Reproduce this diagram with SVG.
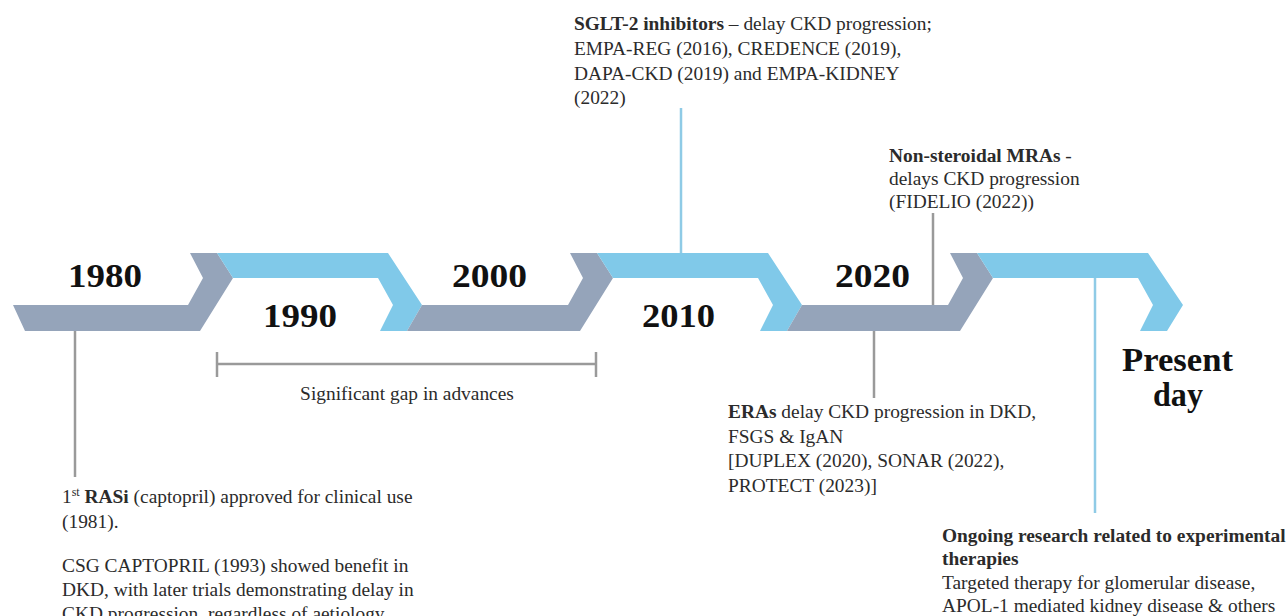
<svg xmlns="http://www.w3.org/2000/svg" width="1288" height="616" viewBox="0 0 1288 616">
<style>
.gray{fill:#95a4ba}
.blue{fill:#80c9e9}
.yr{font-family:"Liberation Serif",serif;font-weight:bold;font-size:33px;fill:#111}
.txt{font-family:"Liberation Serif",serif;font-size:19.4px;fill:#2b2b2b}
.b{font-weight:bold}
.lg{stroke:#9a9a9a;stroke-width:2.5;fill:none}
.lb{stroke:#8fcbe6;stroke-width:2.5;fill:none}
</style>
<rect width="1288" height="616" fill="#ffffff"/>
<g id="band">
<g id="seg-1980"><polygon class="gray" points="13,305 188,305 203,278 190,253 217,253 233,278 200,331 25,331"/><text class="yr" x="68" y="287" textLength="74" lengthAdjust="spacingAndGlyphs">1980</text></g>
<g id="seg-1990"><polygon class="blue" points="217,253 388,253 422,305 407,331 380,331 393,305 378,278 233,278"/><text class="yr" x="263" y="327" textLength="74" lengthAdjust="spacingAndGlyphs">1990</text></g>
<g id="seg-2000"><polygon class="gray" points="422,305 568,305 583,278 570,253 597,253 613,278 580,331 407,331"/><text class="yr" x="452" y="287" textLength="75" lengthAdjust="spacingAndGlyphs">2000</text></g>
<g id="seg-2010"><polygon class="blue" points="597,253 768,253 802,305 787,331 760,331 773,305 758,278 613,278"/><text class="yr" x="642" y="327" textLength="73" lengthAdjust="spacingAndGlyphs">2010</text></g>
<g id="seg-2020"><polygon class="gray" points="802,305 948,305 963,278 950,253 977,253 993,278 960,331 787,331"/><text class="yr" x="835" y="287" textLength="75" lengthAdjust="spacingAndGlyphs">2020</text></g>
<g id="seg-present"><polygon class="blue" points="977,253 1148,253 1183,305 1167,331 1140,331 1153,305 1138,278 993,278"/></g>
</g>
<g id="connectors">
<line class="lg" x1="75" y1="331" x2="75" y2="477"/>
<line class="lb" x1="681" y1="108" x2="681" y2="253"/>
<line class="lg" x1="933" y1="213" x2="933" y2="305"/>
<line class="lg" x1="874" y1="331" x2="874" y2="398"/>
<line class="lb" x1="1095" y1="278" x2="1095" y2="513"/>
<g id="gap-bracket">
<line class="lg" x1="217" y1="364" x2="596" y2="364"/>
<line class="lg" x1="217" y1="352" x2="217" y2="377"/>
<line class="lg" x1="596" y1="352" x2="596" y2="377"/>
</g>
</g>
<g id="present-day">
<text class="yr" x="1122" y="371" font-size="35" textLength="111" lengthAdjust="spacingAndGlyphs">Present</text>
<text class="yr" x="1153" y="406" font-size="35" textLength="50" lengthAdjust="spacingAndGlyphs">day</text>
</g>
<g id="note-gap"><text class="txt" x="407" y="400" text-anchor="middle">Significant gap in advances</text></g>
<g id="note-sglt2">
<text class="txt" x="574" y="30"><tspan class="b">SGLT-2 inhibitors</tspan> – delay CKD progression;</text>
<text class="txt" x="574" y="55">EMPA-REG (2016), CREDENCE (2019),</text>
<text class="txt" x="574" y="79.5">DAPA-CKD (2019) and EMPA-KIDNEY</text>
<text class="txt" x="574" y="104">(2022)</text>
</g>
<g id="note-mra">
<text class="txt" x="889" y="162"><tspan class="b">Non-steroidal MRAs</tspan> -</text>
<text class="txt" x="889" y="185">delays CKD progression</text>
<text class="txt" x="889" y="208">(FIDELIO (2022))</text>
</g>
<g id="note-rasi">
<text class="txt" x="62" y="503">1<tspan font-size="12" dy="-7">st</tspan><tspan dy="7"> </tspan><tspan class="b">RASi</tspan> (captopril) approved for clinical use</text>
<text class="txt" x="62" y="528">(1981).</text>
<text class="txt" x="62" y="572">CSG CAPTOPRIL (1993) showed benefit in</text>
<text class="txt" x="62" y="596">DKD, with later trials demonstrating delay in</text>
<text class="txt" x="62" y="620">CKD progression, regardless of aetiology</text>
</g>
<g id="note-era">
<text class="txt" x="728" y="418"><tspan class="b">ERAs</tspan> delay CKD progression in DKD,</text>
<text class="txt" x="728" y="443">FSGS &amp; IgAN</text>
<text class="txt" x="728" y="467">[DUPLEX (2020), SONAR (2022),</text>
<text class="txt" x="728" y="492">PROTECT (2023)]</text>
</g>
<g id="note-ongoing">
<text class="txt b" x="942" y="542">Ongoing research related to experimental</text>
<text class="txt b" x="942" y="565">therapies</text>
<text class="txt" x="942" y="589">Targeted therapy for glomerular disease,</text>
<text class="txt" x="942" y="612">APOL-1 mediated kidney disease &amp; others</text>
</g>
</svg>
